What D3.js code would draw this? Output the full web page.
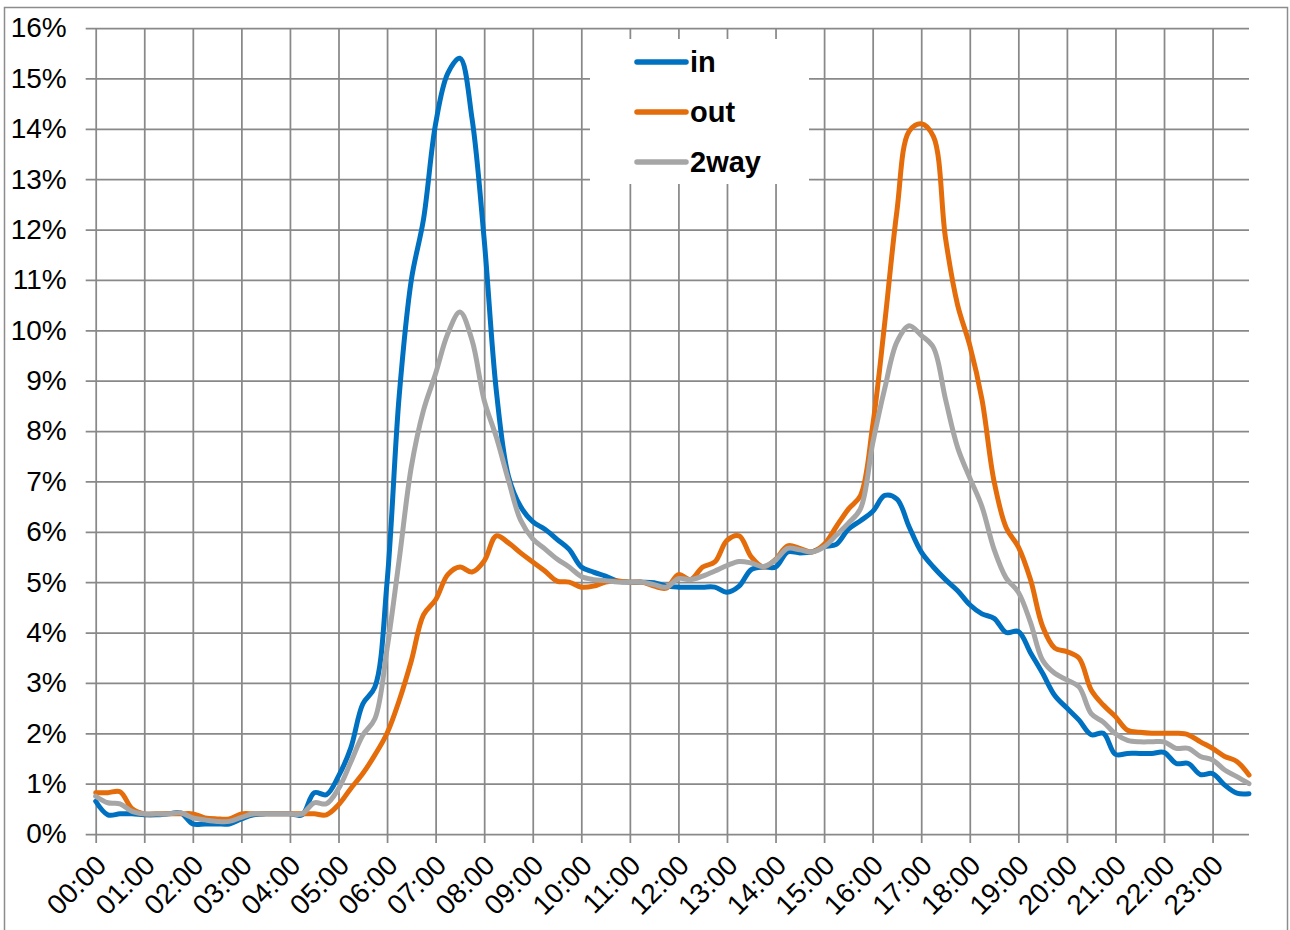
<!DOCTYPE html>
<html lang="en">
<head>
    <meta charset="UTF-8">
    <title>in / out / 2way</title>
    <script src="https://cdn.jsdelivr.net/npm/d3@7"></script>
    <style>
        body { margin: 0; background: #fff; }
        svg { display: block; font-family: "Liberation Sans", Arial, sans-serif; }
    </style>
</head>
<body>
    <div id="chart-space"></div>

    <script>
        // hour labels on the x axis (data is every 15 minutes, 96 slots)
        var hours = ["00:00", "01:00", "02:00", "03:00", "04:00", "05:00", "06:00", "07:00",
                     "08:00", "09:00", "10:00", "11:00", "12:00", "13:00", "14:00", "15:00",
                     "16:00", "17:00", "18:00", "19:00", "20:00", "21:00", "22:00", "23:00"];

        var yTicks = [0, 1, 2, 3, 4, 5, 6, 7, 8, 9, 10, 11, 12, 13, 14, 15, 16];

        var seriesNames = ["in", "out", "2way"];
        var seriesColors = ["#0070C0", "#E46C0A", "#A6A6A6"];

        // share of daily traffic (%) per 15 min slot
        var inShare = [
            0.65, 0.38, 0.40, 0.40, 0.38, 0.38, 0.40, 0.42,
            0.20, 0.20, 0.20, 0.20, 0.30, 0.38, 0.40, 0.40,
            0.40, 0.38, 0.82, 0.78, 1.15, 1.70, 2.58, 2.92,
            5.00, 8.70, 11.0, 12.2, 14.1, 15.1, 15.4, 14.2,
            11.8, 8.80, 7.10, 6.50, 6.20, 6.05, 5.85, 5.65,
            5.30, 5.20, 5.12, 5.02, 5.00, 5.00, 4.99, 4.92,
            4.90, 4.90, 4.90, 4.90, 4.80, 4.92, 5.25, 5.30,
            5.30, 5.60, 5.58, 5.60, 5.70, 5.75, 6.05, 6.22,
            6.40, 6.72, 6.65, 6.10, 5.60, 5.30, 5.05, 4.83,
            4.55, 4.37, 4.28, 4.00, 4.02, 3.60, 3.19, 2.75,
            2.50, 2.26, 1.97, 2.00, 1.58, 1.60, 1.60, 1.60,
            1.62, 1.40, 1.40, 1.18, 1.20, 0.97, 0.81, 0.80
        ];

        var outShare = [
            0.82, 0.82, 0.84, 0.50, 0.40, 0.40, 0.40, 0.40,
            0.40, 0.32, 0.30, 0.30, 0.40, 0.40, 0.40, 0.40,
            0.40, 0.40, 0.40, 0.38, 0.58, 0.90, 1.20, 1.57,
            2.00, 2.65, 3.44, 4.35, 4.65, 5.15, 5.30, 5.20,
            5.42, 5.92, 5.78, 5.58, 5.40, 5.22, 5.02, 5.00,
            4.90, 4.92, 5.00, 5.02, 5.00, 5.00, 4.92, 4.88,
            5.15, 5.05, 5.30, 5.40, 5.83, 5.92, 5.50, 5.30,
            5.45, 5.72, 5.67, 5.60, 5.75, 6.10, 6.45, 6.72,
            8.10, 10.16, 12.37, 13.95, 14.1, 13.85, 11.83, 10.5,
            9.70, 8.63, 7.00, 6.08, 5.70, 5.05, 4.12, 3.69,
            3.62, 3.49, 2.86, 2.56, 2.33, 2.06, 2.02, 2.00,
            2.00, 2.00, 1.97, 1.83, 1.70, 1.54, 1.44, 1.17
        ];

        var twoWayShare = [
            0.75, 0.62, 0.60, 0.45, 0.40, 0.40, 0.40, 0.42,
            0.32, 0.28, 0.25, 0.25, 0.33, 0.40, 0.40, 0.40,
            0.40, 0.40, 0.62, 0.60, 0.90, 1.42, 1.96, 2.29,
            3.68, 5.45, 7.29, 8.41, 9.14, 9.93, 10.36, 9.80,
            8.61, 7.88, 7.02, 6.23, 5.86, 5.66, 5.46, 5.30,
            5.11, 5.05, 5.03, 5.00, 5.00, 5.00, 4.95, 4.90,
            5.07, 5.05, 5.12, 5.22, 5.33, 5.41, 5.38, 5.31,
            5.44, 5.67, 5.64, 5.60, 5.70, 5.93, 6.17, 6.46,
            7.75, 8.85, 9.77, 10.09, 9.90, 9.66, 8.63, 7.67,
            7.07, 6.50, 5.65, 5.08, 4.80, 4.20, 3.45, 3.19,
            3.06, 2.92, 2.39, 2.22, 1.99, 1.86, 1.83, 1.83,
            1.83, 1.70, 1.70, 1.54, 1.47, 1.27, 1.14, 1.00
        ];

        var allSeries = [inShare, outShare, twoWayShare];

        var width = 1290;
        var height = 930;

        var plot = {left: 95.7, right: 1249, top: 28, bottom: 834};
        var gridColor = "#898989";
        var labelSize = 28;

        var svg = d3.select("#chart-space")
            .append("svg")
            .attr("width", width)
            .attr("height", height);

        // chart frame
        svg.append("rect")
            .attr("x", 4.5)
            .attr("y", 7.5)
            .attr("width", 1283)
            .attr("height", 940)
            .attr("fill", "none")
            .attr("stroke", "#8c8c8c")
            .attr("stroke-width", 1.5);

        // x = slot index (15 min), y = percent
        var xScale = d3.scaleLinear()
            .domain([0, inShare.length - 1])
            .range([plot.left, plot.right]);

        var yScale = d3.scaleLinear()
            .domain([0, 16])
            .range([plot.bottom, plot.top]);

        // horizontal grid + y labels
        var yAxis = svg.append("g")
            .attr("transform", "translate(" + (plot.left - 10) + ",0)")
            .call(d3.axisLeft(yScale)
                .tickValues(yTicks)
                .tickSize(-(plot.right - plot.left + 10))
                .tickPadding(19)
                .tickFormat(function(d) { return d + "%"; }));
        yAxis.select(".domain").remove();
        yAxis.selectAll("line").attr("stroke", gridColor).attr("stroke-width", 1.75);
        yAxis.selectAll("text")
            .attr("font-size", labelSize)
            .attr("font-family", "Liberation Sans, Arial, sans-serif")
            .attr("fill", "#000");

        // vertical grid + x labels (one per hour = every 4th slot)
        var xAxis = svg.append("g")
            .attr("transform", "translate(0," + (plot.bottom + 9) + ")")
            .call(d3.axisBottom(xScale)
                .tickValues(hours.map(function(d, i) { return i * 4; }))
                .tickSize(-(plot.bottom + 9 - plot.top))
                .tickFormat(function(d) { return hours[d / 4]; }));
        xAxis.select(".domain").remove();
        xAxis.selectAll("line").attr("stroke", gridColor).attr("stroke-width", 1.75);
        xAxis.selectAll("text")
            .attr("font-size", labelSize)
            .attr("font-family", "Liberation Sans, Arial, sans-serif")
            .attr("fill", "#000")
            .attr("x", 0)
            .attr("y", 0)
            .attr("dy", "0.35em")
            .attr("text-anchor", "end")
            .attr("transform", "translate(5,17) rotate(-45)");

        // lines
        var line = d3.line()
            .x(function(d, i) { return xScale(i); })
            .y(function(d) { return yScale(d); })
            .curve(d3.curveCatmullRom.alpha(0.5));

        svg.selectAll(".series")
            .data(allSeries)
            .join("path")
            .attr("class", "series")
            .attr("d", line)
            .attr("fill", "none")
            .attr("stroke", function(d, i) { return seriesColors[i]; })
            .attr("stroke-width", 5)
            .attr("stroke-linejoin", "round")
            .attr("stroke-linecap", "round");

        // legend
        var legend = svg.append("g");
        legend.append("rect")
            .attr("x", 590)
            .attr("y", 39)
            .attr("width", 219)
            .attr("height", 145)
            .attr("fill", "#fff");

        var items = legend.selectAll(".item")
            .data(seriesNames)
            .join("g")
            .attr("class", "item")
            .attr("transform", function(d, i) { return "translate(0," + (62 + i * 50) + ")"; });

        items.append("line")
            .attr("x1", 637)
            .attr("x2", 686)
            .attr("stroke", function(d, i) { return seriesColors[i]; })
            .attr("stroke-width", 5.5)
            .attr("stroke-linecap", "round");

        items.append("text")
            .attr("x", 690)
            .attr("y", 10)
            .attr("font-size", 29)
            .attr("font-weight", "bold")
            .attr("fill", "#000")
            .text(function(d) { return d; });
    </script>
</body>
</html>
